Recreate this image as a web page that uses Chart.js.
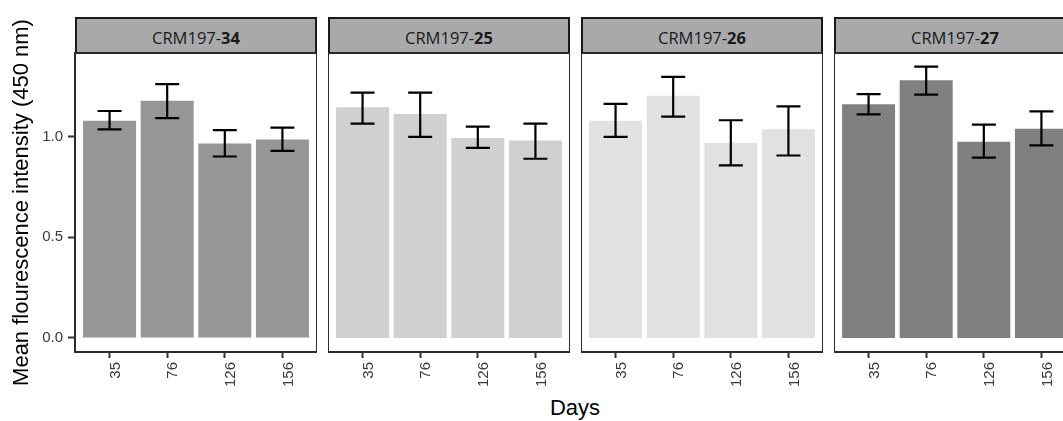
<!DOCTYPE html>
<html>
<head>
<meta charset="utf-8">
<script src="https://cdn.jsdelivr.net/npm/chart.js@4.4.1/dist/chart.umd.min.js"></script>
<style>
  html, body { margin: 0; padding: 0; background: #fff; }
  #wrap { position: relative; width: 1063px; height: 421px; overflow: hidden; }
  .panel { position: absolute; top: 0; height: 421px; }
  .strip {
    position: absolute; top: 17px; height: 37px; box-sizing: border-box;
    border: 2px solid #1a1a1a; background: #a9a9ab; color: #1a1a1a;
    font: 16.5px 'Open Sans', sans-serif; text-align: center; line-height: 38px;
  }
  #xtitle {
    position: absolute; top: 397px; left: 475px; width: 200px; text-align: center;
    font: 22px 'Liberation Sans', Arial, sans-serif; line-height: 22px; color: #000;
  }
</style>
</head>
<body>
<div id="wrap">
  <div id="xtitle">Days</div>
</div>
<script>
// days on the x axis
const days = ['35', '76', '126', '156'];
const yTicks = [0, 0.5, 1.0];

// facet labels: prefix + bold id
const stripPrefix = 'CRM197-';
const panelIds = ['34', '25', '26', '27'];
const panelColors = ['#969696', '#d0d0d0', '#e0e1e1', '#808080'];

// mean values and error bar ends
const mean34 = [1.078, 1.178, 0.966, 0.986];
const low34  = [1.036, 1.092, 0.901, 0.929];
const high34 = [1.127, 1.260, 1.032, 1.044];

const mean25 = [1.145, 1.112, 0.993, 0.981];
const low25  = [1.064, 0.999, 0.944, 0.890];
const high25 = [1.218, 1.218, 1.049, 1.064];

const mean26 = [1.078, 1.203, 0.969, 1.036];
const low26  = [0.999, 1.099, 0.857, 0.906];
const high26 = [1.162, 1.296, 1.081, 1.150];

const mean27 = [1.160, 1.280, 0.974, 1.039];
const low27  = [1.110, 1.208, 0.895, 0.956];
const high27 = [1.211, 1.347, 1.059, 1.125];

const means = [mean34, mean25, mean26, mean27];
const lows = [low34, low25, low26, low27];
const highs = [high34, high25, high26, high27];

const BOX_LEFT = 75, BOX_W = 242, STRIDE = 253;
const TOP = 53, XAXIS_H = 69, YAXIS_W = 75;
const TICK_FONT = { family: 'Liberation Sans', size: 15 };
const TICK_COLOR = '#3a3a3a';

// black error bars with caps
const errorBars = {
  id: 'errorBars',
  afterDatasetsDraw(chart, args, opts) {
    const { ctx, scales: { x, y } } = chart;
    ctx.save();
    ctx.strokeStyle = '#000';
    ctx.lineWidth = 2.2;
    opts.low.forEach((lo, i) => {
      const px = x.getPixelForValue(i + 1);
      const y1 = y.getPixelForValue(lo), y2 = y.getPixelForValue(opts.high[i]);
      ctx.beginPath();
      ctx.moveTo(px, y1); ctx.lineTo(px, y2);
      ctx.moveTo(px - 12, y1); ctx.lineTo(px + 12, y1);
      ctx.moveTo(px - 12, y2); ctx.lineTo(px + 12, y2);
      ctx.stroke();
    });
    ctx.restore();
  },
};

// panel frame
const frame = {
  id: 'frame',
  afterDatasetsDraw(chart) {
    const { ctx, chartArea: a } = chart;
    ctx.save();
    ctx.strokeStyle = '#2b2b2b';
    ctx.lineWidth = 2;
    ctx.strokeRect(a.left, a.top, a.right - a.left, a.bottom - a.top);
    ctx.restore();
  },
};

function makePanel(i) {
  const wrap = document.getElementById('wrap');
  const first = i === 0;
  const boxLeft = BOX_LEFT + i * STRIDE;

  const strip = document.createElement('div');
  strip.className = 'strip';
  strip.style.left = boxLeft + 'px';
  strip.style.width = BOX_W + 'px';
  strip.innerHTML = stripPrefix + '<b>' + panelIds[i] + '</b>';
  wrap.appendChild(strip);

  const holder = document.createElement('div');
  holder.className = 'panel';
  holder.style.left = (first ? 0 : boxLeft) + 'px';
  holder.style.width = (first ? boxLeft + BOX_W : BOX_W) + 'px';
  const canvas = document.createElement('canvas');
  holder.appendChild(canvas);
  wrap.appendChild(holder);

  return new Chart(canvas, {
    type: 'bar',
    data: {
      datasets: [{
        data: means[i].map((v, k) => ({ x: k + 1, y: v })),
        backgroundColor: panelColors[i],
        borderWidth: 0,
        barPercentage: 0.92,
        categoryPercentage: 1,
      }],
    },
    options: {
      responsive: true,
      maintainAspectRatio: false,
      animation: false,
      layout: { padding: { top: TOP, left: 0, right: 0, bottom: 0 } },
      plugins: {
        legend: { display: false },
        tooltip: { enabled: false },
        errorBars: { low: lows[i], high: highs[i] },
      },
      scales: {
        x: {
          type: 'linear',
          offset: false,
          min: 0.4, max: 4.6,
          afterBuildTicks: s => { s.ticks = days.map((_, k) => ({ value: k + 1 })); },
          afterFit: s => { s.height = XAXIS_H; },
          ticks: {
            callback: v => days[v - 1],
            minRotation: 90, maxRotation: 90, autoSkip: false,
            color: TICK_COLOR, font: TICK_FONT, padding: 4, labelOffset: 6,
          },
          grid: { offset: false, drawOnChartArea: false, drawTicks: true, tickLength: 6, tickColor: '#333', tickWidth: 2 },
          border: { display: false },
        },
        y: {
          display: first,
          min: -0.0697, max: 1.415,
          afterBuildTicks: s => { s.ticks = yTicks.map(v => ({ value: v })); },
          afterFit: s => { s.width = first ? YAXIS_W : 0; },
          ticks: { callback: v => v.toFixed(1), color: TICK_COLOR, font: TICK_FONT, padding: 5 },
          grid: { drawOnChartArea: false, drawTicks: true, tickLength: 7, tickColor: '#333', tickWidth: 2 },
          border: { display: false },
          title: {
            display: true,
            text: 'Mean flourescence intensity (450 nm)',
            color: '#000',
            font: { family: 'Liberation Sans', size: 22 },
            padding: { top: 9, bottom: 0 },
          },
        },
      },
    },
    plugins: [errorBars, frame],
  });
}

panelIds.forEach((_, i) => makePanel(i));
</script>
</body>
</html>
